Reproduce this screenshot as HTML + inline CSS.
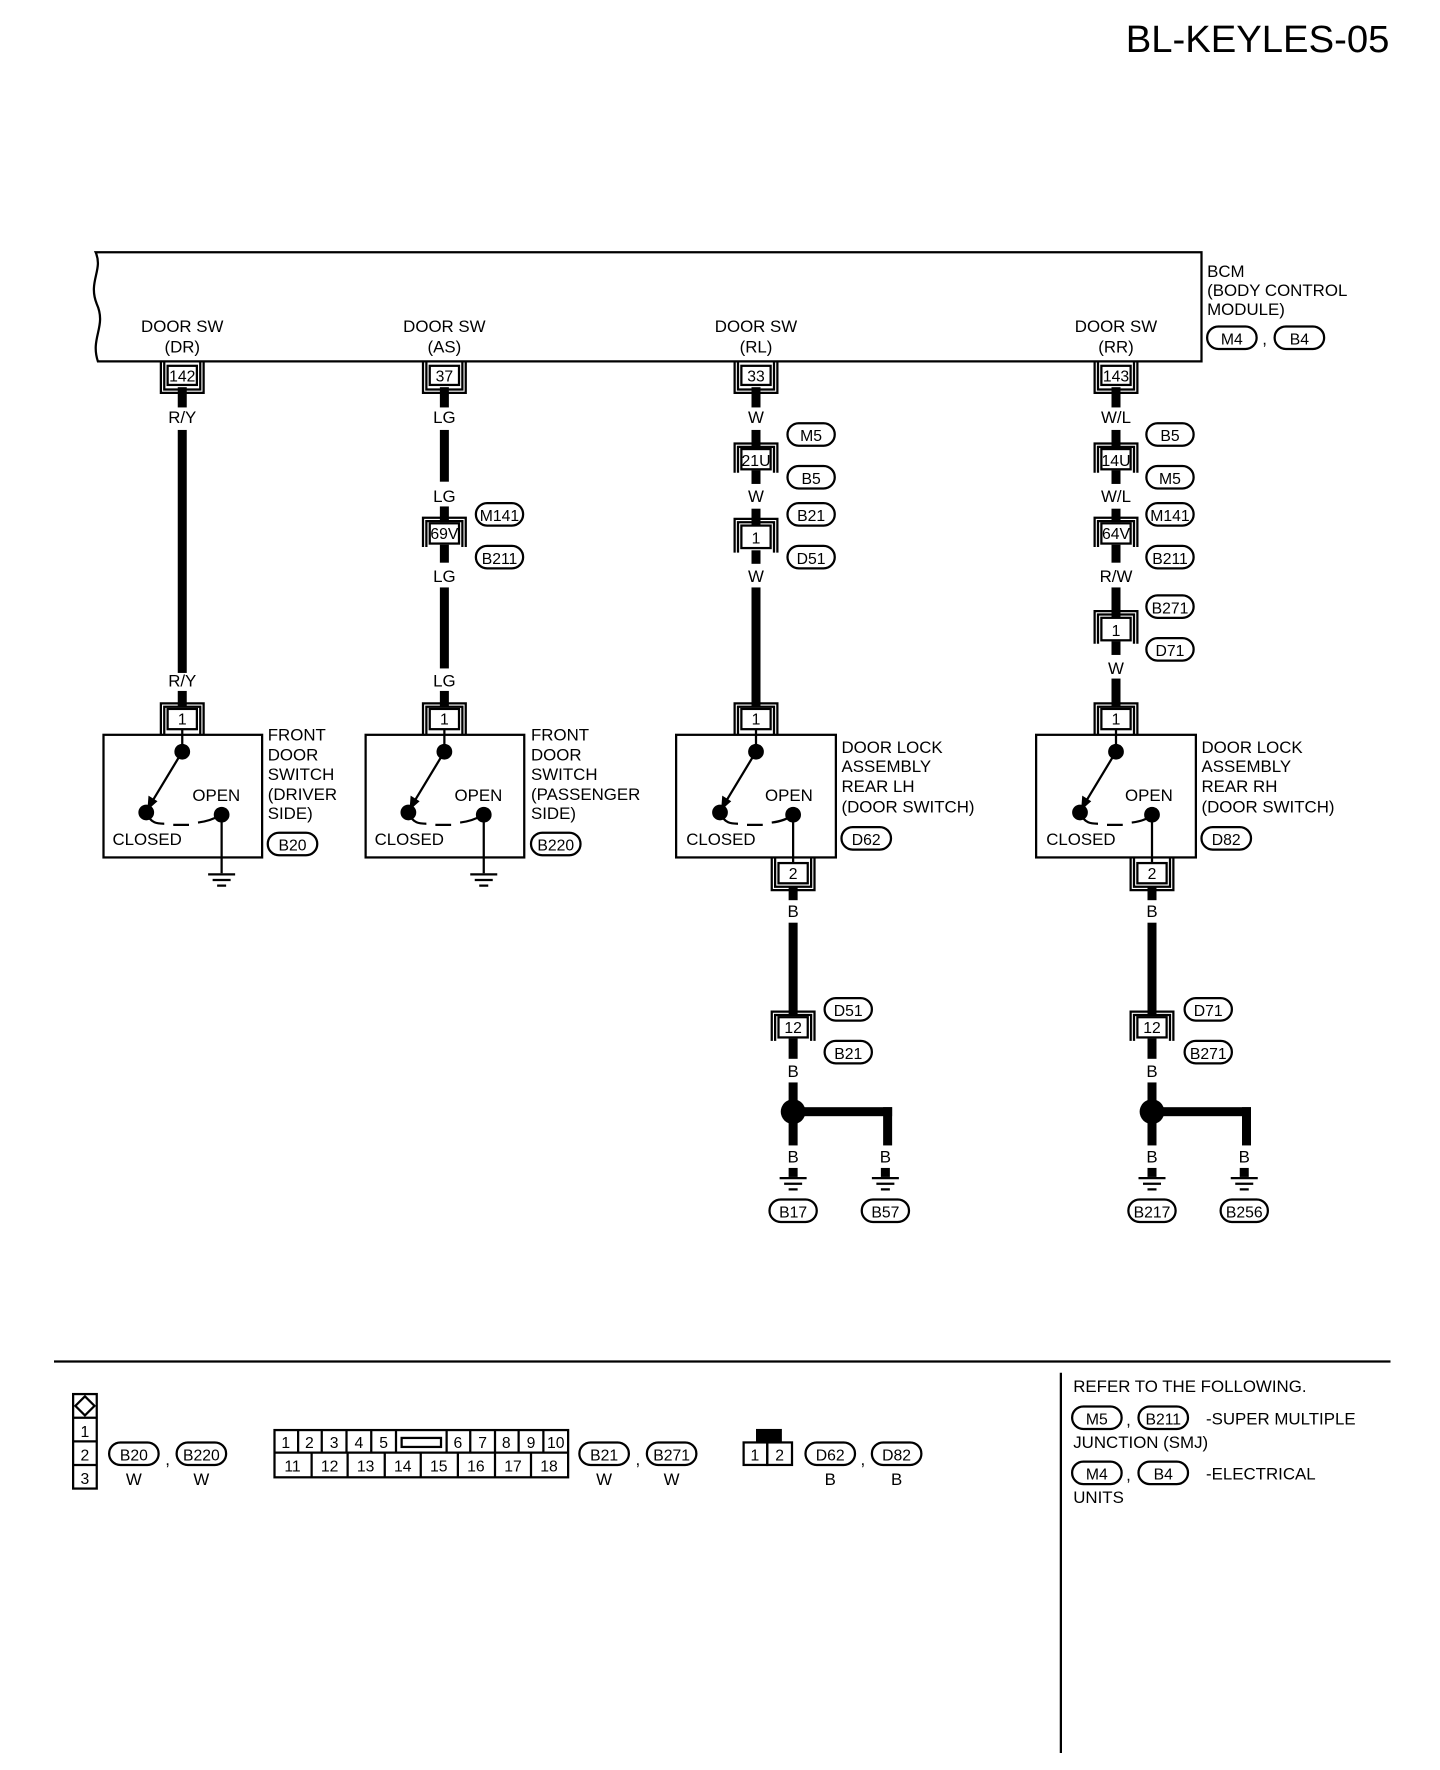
<!DOCTYPE html>
<html><head><meta charset="utf-8"><style>
html,body{margin:0;padding:0;background:#fff;}
svg{display:block;}
text{font-family:"Liberation Sans",sans-serif;fill:#000;}
</style></head><body>
<svg width="1440" height="1770" viewBox="0 0 1280 1573" xmlns="http://www.w3.org/2000/svg">
<g fill="none" stroke="#000" stroke-width="2">
<!-- BCM box -->
<path d="M85 224 H1068 V321 H87 C80 300 95 290 86 270 C78 250 92 240 85 224 Z"/>
</g>
<text x="1235" y="46" font-size="34" text-anchor="end">BL-KEYLES-05</text>
<g font-size="15" text-anchor="middle">
<text x="162" y="295">DOOR SW</text><text x="162" y="313">(DR)</text>
<text x="395" y="295">DOOR SW</text><text x="395" y="313">(AS)</text>
<text x="672" y="295">DOOR SW</text><text x="672" y="313">(RL)</text>
<text x="992" y="295">DOOR SW</text><text x="992" y="313">(RR)</text>
</g>
<g font-size="15">
<text x="1073" y="246">BCM</text><text x="1073" y="263">(BODY CONTROL</text><text x="1073" y="280"> MODULE)</text>
<text x="1122" y="306">,</text>
</g>

<!-- wires -->
<g fill="#000">
<rect x="158" y="344" width="8" height="18"/><rect x="158" y="382" width="8" height="216"/><rect x="158" y="614" width="8" height="14"/>
<rect x="391" y="344" width="8" height="18"/><rect x="391" y="382" width="8" height="46"/><rect x="391" y="450" width="8" height="14"/><rect x="391" y="484" width="8" height="16"/><rect x="391" y="522" width="8" height="72"/><rect x="391" y="614" width="8" height="14"/>
<rect x="668" y="344" width="8" height="18"/><rect x="668" y="382" width="8" height="16"/><rect x="668" y="418" width="8" height="12"/><rect x="668" y="452" width="8" height="17"/><rect x="668" y="489" width="8" height="12"/><rect x="668" y="522" width="8" height="106"/>
<rect x="988" y="344" width="8" height="18"/><rect x="988" y="382" width="8" height="16"/><rect x="988" y="418" width="8" height="12"/><rect x="988" y="452" width="8" height="12"/><rect x="988" y="484" width="8" height="16"/><rect x="988" y="522" width="8" height="28"/><rect x="988" y="570" width="8" height="12"/><rect x="988" y="603" width="8" height="25"/>
<rect x="701" y="788" width="8" height="12"/><rect x="701" y="820" width="8" height="83"/><rect x="701" y="923" width="8" height="18"/><rect x="701" y="962" width="8" height="56"/><rect x="701" y="1038" width="8" height="8"/>
<rect x="705" y="984" width="88" height="8"/><rect x="785" y="984" width="8" height="34"/><rect x="783" y="1038" width="8" height="8"/>
<circle cx="705" cy="988" r="11"/>
<rect x="1020" y="788" width="8" height="12"/><rect x="1020" y="820" width="8" height="83"/><rect x="1020" y="923" width="8" height="18"/><rect x="1020" y="962" width="8" height="56"/><rect x="1020" y="1038" width="8" height="8"/>
<rect x="1024" y="984" width="88" height="8"/><rect x="1104" y="984" width="8" height="34"/><rect x="1102" y="1038" width="8" height="8"/>
<circle cx="1024" cy="988" r="11"/>
</g>
<g font-size="15" text-anchor="middle">
<text x="162" y="376">R/Y</text><text x="162" y="610">R/Y</text>
<text x="395" y="376">LG</text><text x="395" y="446">LG</text><text x="395" y="517">LG</text><text x="395" y="610">LG</text>
<text x="672" y="376">W</text><text x="672" y="446">W</text><text x="672" y="517">W</text>
<text x="992" y="376">W/L</text><text x="992" y="446">W/L</text><text x="992" y="517">R/W</text><text x="992" y="599">W</text>
<text x="705" y="815">B</text><text x="705" y="957">B</text><text x="705" y="1033">B</text><text x="787" y="1033">B</text>
<text x="1024" y="815">B</text><text x="1024" y="957">B</text><text x="1024" y="1033">B</text><text x="1106" y="1033">B</text>
</g>

<!-- connectors -->
<g fill="#fff" stroke="#000" stroke-width="2">
<!-- top (hanging from BCM) -->
<g id="t"><path d="M143 322V349H181V322M146 322V346H178V322" fill="none"/><rect x="149" y="325" width="26" height="17"/></g>
<path d="M376 322V349H414V322M379 322V346H411V322" fill="none"/><rect x="382" y="325" width="26" height="17"/>
<path d="M653 322V349H691V322M656 322V346H688V322" fill="none"/><rect x="659" y="325" width="26" height="17"/>
<path d="M973 322V349H1011V322M976 322V346H1008V322" fill="none"/><rect x="979" y="325" width="26" height="17"/>
<!-- inline -->
<path d="M653 420V394H691V420M656 420V397H688V420" fill="none"/><rect x="659" y="399" width="26" height="18"/>
<path d="M653 491V461H691V491M656 491V464H688V491" fill="none"/><rect x="659" y="467" width="26" height="20"/>
<path d="M376 486V460H414V486M379 486V463H411V486" fill="none"/><rect x="382" y="465" width="26" height="18"/>
<path d="M973 420V394H1011V420M976 420V397H1008V420" fill="none"/><rect x="979" y="399" width="26" height="18"/>
<path d="M973 486V460H1011V486M976 486V463H1008V486" fill="none"/><rect x="979" y="465" width="26" height="18"/>
<path d="M973 572V543H1011V572M976 572V546H1008V572" fill="none"/><rect x="979" y="549" width="26" height="20"/>
<!-- component top -->
<path d="M143 653V625H181V653M146 653V628H178V653" fill="none"/><rect x="149" y="630" width="26" height="18"/>
<path d="M376 653V625H414V653M379 653V628H411V653" fill="none"/><rect x="382" y="630" width="26" height="18"/>
<path d="M653 653V625H691V653M656 653V628H688V653" fill="none"/><rect x="659" y="630" width="26" height="18"/>
<path d="M973 653V625H1011V653M976 653V628H1008V653" fill="none"/><rect x="979" y="630" width="26" height="18"/>
<!-- below box -->
<path d="M686 762V791H724V762M689 762V788H721V762" fill="none"/><rect x="692" y="767" width="26" height="18"/>
<path d="M1005 762V791H1043V762M1008 762V788H1040V762" fill="none"/><rect x="1011" y="767" width="26" height="18"/>
<!-- 12 -->
<path d="M686 925V899H724V925M689 925V902H721V925" fill="none"/><rect x="692" y="904" width="26" height="18"/>
<path d="M1005 925V899H1043V925M1008 925V902H1040V925" fill="none"/><rect x="1011" y="904" width="26" height="18"/>
</g>
<g font-size="14" text-anchor="middle">
<text x="162" y="339">142</text><text x="395" y="339">37</text><text x="672" y="339">33</text><text x="992" y="339">143</text>
<text x="672" y="414">21U</text><text x="672" y="483">1</text><text x="395" y="479">69V</text>
<text x="992" y="414">14U</text><text x="992" y="479">64V</text><text x="992" y="565">1</text>
<text x="162" y="644">1</text><text x="395" y="644">1</text><text x="672" y="644">1</text><text x="992" y="644">1</text>
<text x="705" y="781">2</text><text x="1024" y="781">2</text>
<text x="705" y="918">12</text><text x="1024" y="918">12</text>
</g>

<!-- component boxes -->
<g fill="none" stroke="#000" stroke-width="2">
<rect x="92" y="653" width="141" height="109"/>
<rect x="325" y="653" width="141" height="109"/>
<rect x="601" y="653" width="142" height="109"/>
<rect x="921" y="653" width="142" height="109"/>
<path d="M162 648V668L133 716M197 724V776M395 648V668L366 716M430 724V776M672 648V668L643 716M705 724V767M992 648V668L963 716M1024 724V767"/>
<path d="M130 722C134 732 140 732 146 732M154 733H168M176 731C184 730 190 728 197 724 M363 722C367 732 373 732 379 732M387 733H401M409 731C417 730 423 728 430 724 M640 722C644 732 650 732 656 732M664 733H678M686 731C694 730 700 728 705 724 M960 722C964 732 970 732 976 732M984 733H998M1006 731C1014 730 1020 728 1024 724"/>
<!-- grounds -->
<path d="M185 777H209M189 782H205M193 787H201 M418 777H442M422 782H438M426 787H434 M693 1047H717M697 1052H713M701 1057H709 M775 1047H799M779 1052H795M783 1057H791 M1012 1047H1036M1016 1052H1032M1020 1057H1028 M1094 1047H1118M1098 1052H1114M1102 1057H1110"/>
</g>
<g fill="#000">
<circle cx="162" cy="668" r="7"/><circle cx="130" cy="722" r="7"/><circle cx="197" cy="724" r="7"/>
<circle cx="395" cy="668" r="7"/><circle cx="363" cy="722" r="7"/><circle cx="430" cy="724" r="7"/>
<circle cx="672" cy="668" r="7"/><circle cx="640" cy="722" r="7"/><circle cx="705" cy="724" r="7"/>
<circle cx="992" cy="668" r="7"/><circle cx="960" cy="722" r="7"/><circle cx="1024" cy="724" r="7"/>
<path d="M131 720L132 707L140 712Z M364 720L365 707L373 712Z M641 720L642 707L650 712Z M961 720L962 707L970 712Z"/>
</g>
<g font-size="15">
<text x="171" y="712">OPEN</text><text x="100" y="751">CLOSED</text>
<text x="404" y="712">OPEN</text><text x="333" y="751">CLOSED</text>
<text x="680" y="712">OPEN</text><text x="610" y="751">CLOSED</text>
<text x="1000" y="712">OPEN</text><text x="930" y="751">CLOSED</text>
<text x="238" y="658">FRONT</text><text x="238" y="676">DOOR</text><text x="238" y="693">SWITCH</text><text x="238" y="711">(DRIVER</text><text x="238" y="728"> SIDE)</text>
<text x="472" y="658">FRONT</text><text x="472" y="676">DOOR</text><text x="472" y="693">SWITCH</text><text x="472" y="711">(PASSENGER</text><text x="472" y="728"> SIDE)</text>
<text x="748" y="669">DOOR LOCK</text><text x="748" y="686">ASSEMBLY</text><text x="748" y="704">REAR LH</text><text x="748" y="722">(DOOR SWITCH)</text>
<text x="1068" y="669">DOOR LOCK</text><text x="1068" y="686">ASSEMBLY</text><text x="1068" y="704">REAR RH</text><text x="1068" y="722">(DOOR  SWITCH)</text>
</g>

<!-- pills -->
<g fill="none" stroke="#000" stroke-width="2">
<rect x="1073" y="290" width="44" height="20" rx="10"/><rect x="1133" y="290" width="44" height="20" rx="10"/>
<rect x="700" y="376" width="42" height="20" rx="10"/><rect x="700" y="414" width="42" height="20" rx="10"/>
<rect x="700" y="447" width="42" height="20" rx="10"/><rect x="700" y="485" width="42" height="20" rx="10"/>
<rect x="423" y="447" width="42" height="20" rx="10"/><rect x="423" y="485" width="42" height="20" rx="10"/>
<rect x="1019" y="376" width="42" height="20" rx="10"/><rect x="1019" y="414" width="42" height="20" rx="10"/>
<rect x="1019" y="447" width="42" height="20" rx="10"/><rect x="1019" y="485" width="42" height="20" rx="10"/>
<rect x="1019" y="529" width="42" height="20" rx="10"/><rect x="1019" y="567" width="42" height="20" rx="10"/>
<rect x="238" y="740" width="44" height="20" rx="10"/><rect x="472" y="740" width="44" height="20" rx="10"/>
<rect x="748" y="735" width="44" height="20" rx="10"/><rect x="1068" y="735" width="44" height="20" rx="10"/>
<rect x="733" y="887" width="42" height="20" rx="10"/><rect x="733" y="925" width="42" height="20" rx="10"/>
<rect x="1053" y="887" width="42" height="20" rx="10"/><rect x="1053" y="925" width="42" height="20" rx="10"/>
<rect x="684" y="1066" width="42" height="20" rx="10"/><rect x="766" y="1066" width="42" height="20" rx="10"/>
<rect x="1003" y="1066" width="42" height="20" rx="10"/><rect x="1085" y="1066" width="42" height="20" rx="10"/>
<rect x="97" y="1282" width="44" height="20" rx="10"/><rect x="157" y="1282" width="44" height="20" rx="10"/>
<rect x="515" y="1282" width="44" height="20" rx="10"/><rect x="575" y="1282" width="44" height="20" rx="10"/>
<rect x="716" y="1282" width="44" height="20" rx="10"/><rect x="775" y="1282" width="44" height="20" rx="10"/>
<rect x="953" y="1250" width="44" height="20" rx="10"/><rect x="1012" y="1250" width="44" height="20" rx="10"/>
<rect x="953" y="1299" width="44" height="20" rx="10"/><rect x="1012" y="1299" width="44" height="20" rx="10"/>
</g>
<g font-size="14" text-anchor="middle">
<text x="1095" y="306">M4</text><text x="1155" y="306">B4</text>
<text x="721" y="392">M5</text><text x="721" y="430">B5</text><text x="721" y="463">B21</text><text x="721" y="501">D51</text>
<text x="444" y="463">M141</text><text x="444" y="501">B211</text>
<text x="1040" y="392">B5</text><text x="1040" y="430">M5</text><text x="1040" y="463">M141</text><text x="1040" y="501">B211</text><text x="1040" y="545">B271</text><text x="1040" y="583">D71</text>
<text x="260" y="756">B20</text><text x="494" y="756">B220</text><text x="770" y="751">D62</text><text x="1090" y="751">D82</text>
<text x="754" y="903">D51</text><text x="754" y="941">B21</text><text x="1074" y="903">D71</text><text x="1074" y="941">B271</text>
<text x="705" y="1082">B17</text><text x="787" y="1082">B57</text><text x="1024" y="1082">B217</text><text x="1106" y="1082">B256</text>
<text x="119" y="1298">B20</text><text x="179" y="1298">B220</text><text x="537" y="1298">B21</text><text x="597" y="1298">B271</text>
<text x="738" y="1298">D62</text><text x="797" y="1298">D82</text>
<text x="975" y="1266">M5</text><text x="1034" y="1266">B211</text><text x="975" y="1315">M4</text><text x="1034" y="1315">B4</text>
</g>

<!-- bottom legend -->
<g fill="none" stroke="#000" stroke-width="2">
<path d="M48 1210H1236M943 1220V1558"/>
<rect x="65" y="1239" width="21" height="84"/><path d="M65 1260H86M65 1281H86M65 1302H86M75.5 1241L84 1249.5L75.5 1258L67 1249.5Z"/>
<rect x="244" y="1271" width="261" height="42"/>
<path d="M244 1291H352V1271M352 1291H397V1271M397 1291H505"/>
<path d="M265 1271V1291M286 1271V1291M308 1271V1291M330 1271V1291M418 1271V1291M440 1271V1291M461 1271V1291M483 1271V1291"/>
<path d="M277 1291V1313M309 1291V1313M342 1291V1313M374 1291V1313M407 1291V1313M440 1291V1313M472 1291V1313"/>
<rect x="357" y="1278" width="35" height="8"/>
<rect x="661" y="1282" width="21" height="20"/><rect x="682" y="1282" width="22" height="20"/>
</g>
<rect x="672" y="1270" width="23" height="12" fill="#000"/>
<g font-size="14" text-anchor="middle">
<text x="75.5" y="1277">1</text><text x="75.5" y="1298">2</text><text x="75.5" y="1319">3</text>
<text x="254" y="1287">1</text><text x="275" y="1287">2</text><text x="297" y="1287">3</text><text x="319" y="1287">4</text><text x="341" y="1287">5</text>
<text x="407" y="1287">6</text><text x="429" y="1287">7</text><text x="450" y="1287">8</text><text x="472" y="1287">9</text><text x="494" y="1287">10</text>
<text x="260" y="1308">11</text><text x="293" y="1308">12</text><text x="325" y="1308">13</text><text x="358" y="1308">14</text><text x="390" y="1308">15</text><text x="423" y="1308">16</text><text x="456" y="1308">17</text><text x="488" y="1308">18</text>
<text x="671" y="1298">1</text><text x="693" y="1298">2</text>
</g>
<g font-size="15" text-anchor="middle">
<text x="119" y="1320">W</text><text x="179" y="1320">W</text><text x="149" y="1302">,</text>
<text x="537" y="1320">W</text><text x="597" y="1320">W</text><text x="567" y="1302">,</text>
<text x="738" y="1320">B</text><text x="797" y="1320">B</text><text x="767" y="1302">,</text>
</g>
<g font-size="15">
<text x="954" y="1237">REFER TO THE FOLLOWING.</text>
<text x="1001" y="1267">,</text><text x="1072" y="1266">-SUPER MULTIPLE</text>
<text x="954" y="1287">JUNCTION (SMJ)</text>
<text x="1001" y="1316">,</text><text x="1072" y="1315">-ELECTRICAL</text>
<text x="954" y="1336">UNITS</text>
</g>
</svg>
</body></html>
